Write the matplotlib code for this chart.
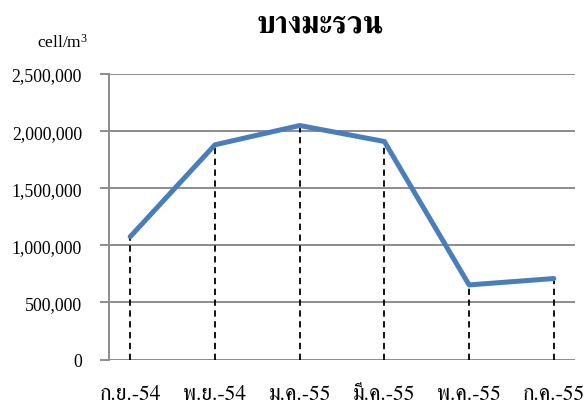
import matplotlib
matplotlib.use('Agg')
import matplotlib.pyplot as plt
from matplotlib.ticker import FuncFormatter

# monthly cell counts at Bang Mararuan station
months = ['ก.ย.-54', 'พ.ย.-54', 'ม.ค.-55', 'มี.ค.-55', 'พ.ค.-55', 'ก.ค.-55']
cells = [1075000, 1880000, 2049000, 1909000, 653000, 709000]

plt.rcParams['font.family'] = ['Liberation Serif', 'FreeSerif']
plt.rcParams['mathtext.fontset'] = 'custom'
plt.rcParams['mathtext.rm'] = 'Liberation Serif'

grid_col = '#8c8c8c'

fig = plt.figure(figsize=(5.84, 4.10), dpi=100)
ax = fig.add_axes([109 / 584, 1 - 360.5 / 410, 466 / 584, 285.5 / 410])

x = list(range(len(months)))
ax.vlines(x, 0, cells, colors='black', linestyles=(0, (3.5, 2.5)), linewidth=1.3, zorder=2)
ax.plot(x, cells, color='#4a7ebb', linewidth=3.6, solid_capstyle='round',
        solid_joinstyle='round', zorder=3)

ax.set_ylim(0, 2500000)
ax.set_xlim(-0.25, len(months) - 0.75)
ax.set_yticks(range(0, 2500001, 500000))
ax.yaxis.set_major_formatter(FuncFormatter(lambda v, p: '{:,.0f}'.format(v)))
ax.grid(axis='y', color=grid_col, linewidth=1.4)
ax.set_axisbelow(True)

for s in ['top', 'right', 'bottom']:
    ax.spines[s].set_visible(False)
ax.spines['left'].set_color(grid_col)
ax.spines['left'].set_linewidth(1.4)

ax.tick_params(axis='y', direction='out', length=6.5, width=1.4, color=grid_col,
               labelsize=12.8, pad=13)
ax.tick_params(axis='x', length=0, pad=18)
ax.set_xticks(x)
ax.set_xticklabels(months, fontsize=15.5, family=['FreeSerif'])

fig.text(0.063, 0.873, r'cell/m$\mathregular{^3}$', fontsize=12.5, ha='left', va='bottom')
fig.text(0.548, 0.907, 'บางมะรวน', fontsize=22, fontweight='bold',
         family=['FreeSerif'], ha='center', va='bottom')

fig.savefig('out.png', dpi=100)
